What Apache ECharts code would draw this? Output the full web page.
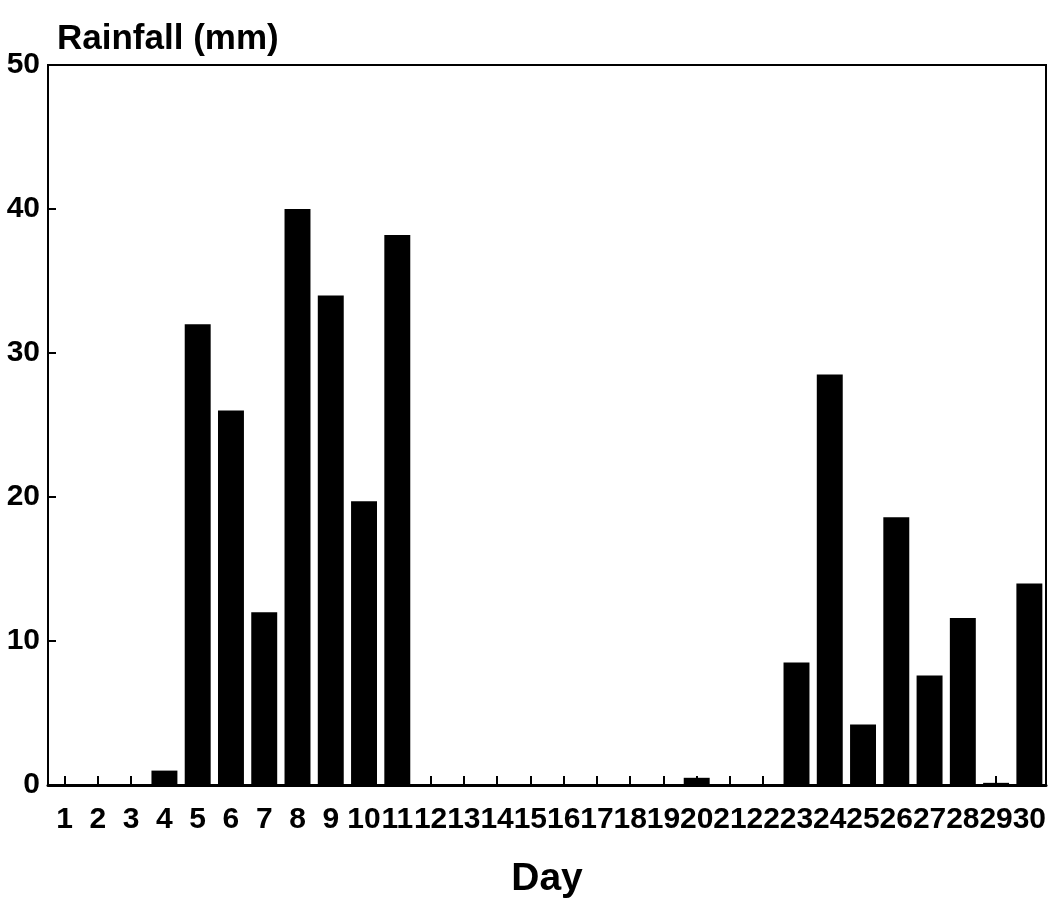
<!DOCTYPE html>
<html>
<head>
<meta charset="utf-8">
<script src="https://cdn.jsdelivr.net/npm/echarts@6/dist/echarts.min.js"></script>
<style>html,body{margin:0;padding:0;background:#fff;}#c{width:1054px;height:904px;}</style>
</head>
<body>
<div id="c"></div>
<script>
const days = ['1','2','3','4','5','6','7','8','9','10','11','12','13','14','15','16','17','18','19','20','21','22','23','24','25','26','27','28','29','30'];
const rainfall = [0,0,0,1.0,32,26,12,40,34,19.7,38.2,0,0,0,0,0,0,0,0,0.5,0,0,8.5,28.5,4.2,18.6,7.6,11.6,0.15,14];
const yTicks = [0,10,20,30,40,50];

const chart = echarts.init(document.getElementById('c'), null, {renderer:'canvas'});
const font = '"Liberation Sans", Arial, sans-serif';
chart.setOption({
  backgroundColor:'#fff',
  animation:false,
  grid:{left:48,right:8,top:65,bottom:117,show:true,borderColor:'#000',borderWidth:2,backgroundColor:'transparent'},
  title:{text:'Rainfall (mm)',left:52,top:17,textStyle:{fontFamily:font,fontWeight:'bold',fontSize:35,color:'#000'}},
  xAxis:{
    type:'category',data:days,
    name:'Day',nameLocation:'middle',nameGap:75,
    nameTextStyle:{fontFamily:font,fontWeight:'bold',fontSize:39,color:'#000'},
    axisLine:{lineStyle:{color:'#000',width:3}},
    axisTick:{show:true,inside:true,alignWithLabel:true,length:9,lineStyle:{color:'#000',width:2}},
    axisLabel:{interval:0,margin:20,fontFamily:font,fontWeight:'bold',fontSize:30,color:'#000',hideOverlap:false},
    splitLine:{show:false}
  },
  yAxis:{
    type:'value',min:0,max:50,interval:10,
    axisLine:{show:true,lineStyle:{color:'#000',width:2}},
    axisTick:{show:true,inside:true,length:8,lineStyle:{color:'#000',width:2}},
    axisLabel:{margin:8,fontFamily:font,fontWeight:'bold',fontSize:30,color:'#000',
      formatter:v=>yTicks.includes(v)?String(v):''},
    splitLine:{show:false}
  },
  series:[{type:'bar',data:rainfall,barWidth:'78%',itemStyle:{color:'#000'}}]
});
</script>
</body>
</html>
